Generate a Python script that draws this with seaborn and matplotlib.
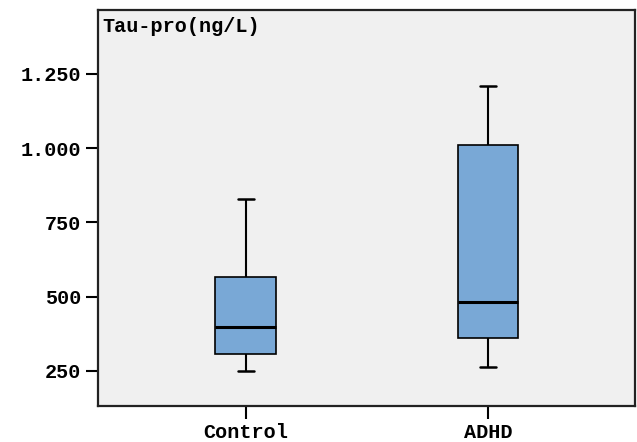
import matplotlib
matplotlib.use("Agg")
import matplotlib.pyplot as plt
import seaborn as sns
import pandas as pd

# Data (five-number summaries per group)
groups = ["Control", "ADHD"]
control_vals = [250, 308, 399, 567, 828]
adhd_vals = [263, 362, 483, 1010, 1210]
ytick_values = [250, 500, 750, 1000, 1250]
ytick_labels = ["250", "500", "750", "1.000", "1.250"]
y_title = "Tau-pro(ng/L)"

df = pd.DataFrame({
    "group": [groups[0]] * len(control_vals) + [groups[1]] * len(adhd_vals),
    "value": control_vals + adhd_vals,
})

sns.set_theme(style="ticks")
plt.rcParams["font.family"] = ["Liberation Mono", "DejaVu Sans Mono"]
plt.rcParams["font.weight"] = "bold"

fig = plt.figure(figsize=(6.37, 4.42), dpi=100)
ax = fig.add_axes([98 / 637, 36 / 442, 537 / 637, 396 / 442])
ax.set_facecolor("#f0f0f0")

sns.boxplot(
    data=df, x="group", y="value", order=groups, ax=ax,
    whis=(0, 100), width=0.25, color="#79a8d6", saturation=1,
    linecolor="black", linewidth=1.2,
    boxprops=dict(edgecolor="black", linewidth=1.2),
    medianprops=dict(color="black", linewidth=2.2),
    whiskerprops=dict(color="black", linewidth=1.5),
    capprops=dict(color="black", linewidth=1.8),
    capwidths=0.065,
)

ax.set_xlim(-0.61, 1.607)
ax.set_ylim(132, 1465)
ax.set_yticks(ytick_values)
ax.set_yticklabels(ytick_labels)
ax.set_xlabel("")
ax.set_ylabel("")

for s in ax.spines.values():
    s.set_visible(True)
    s.set_linewidth(1.6)
    s.set_color("#222222")

ax.tick_params(axis="both", direction="out", length=9, width=1.5,
               labelsize=14.5, colors="black", pad=3)
for lbl in ax.get_xticklabels() + ax.get_yticklabels():
    lbl.set_fontweight("bold")

ax.text(0.008, 0.983, y_title, transform=ax.transAxes, ha="left", va="top",
        fontsize=14.5, fontweight="bold", color="black")

fig.savefig("out.png", dpi=100, facecolor="white")
